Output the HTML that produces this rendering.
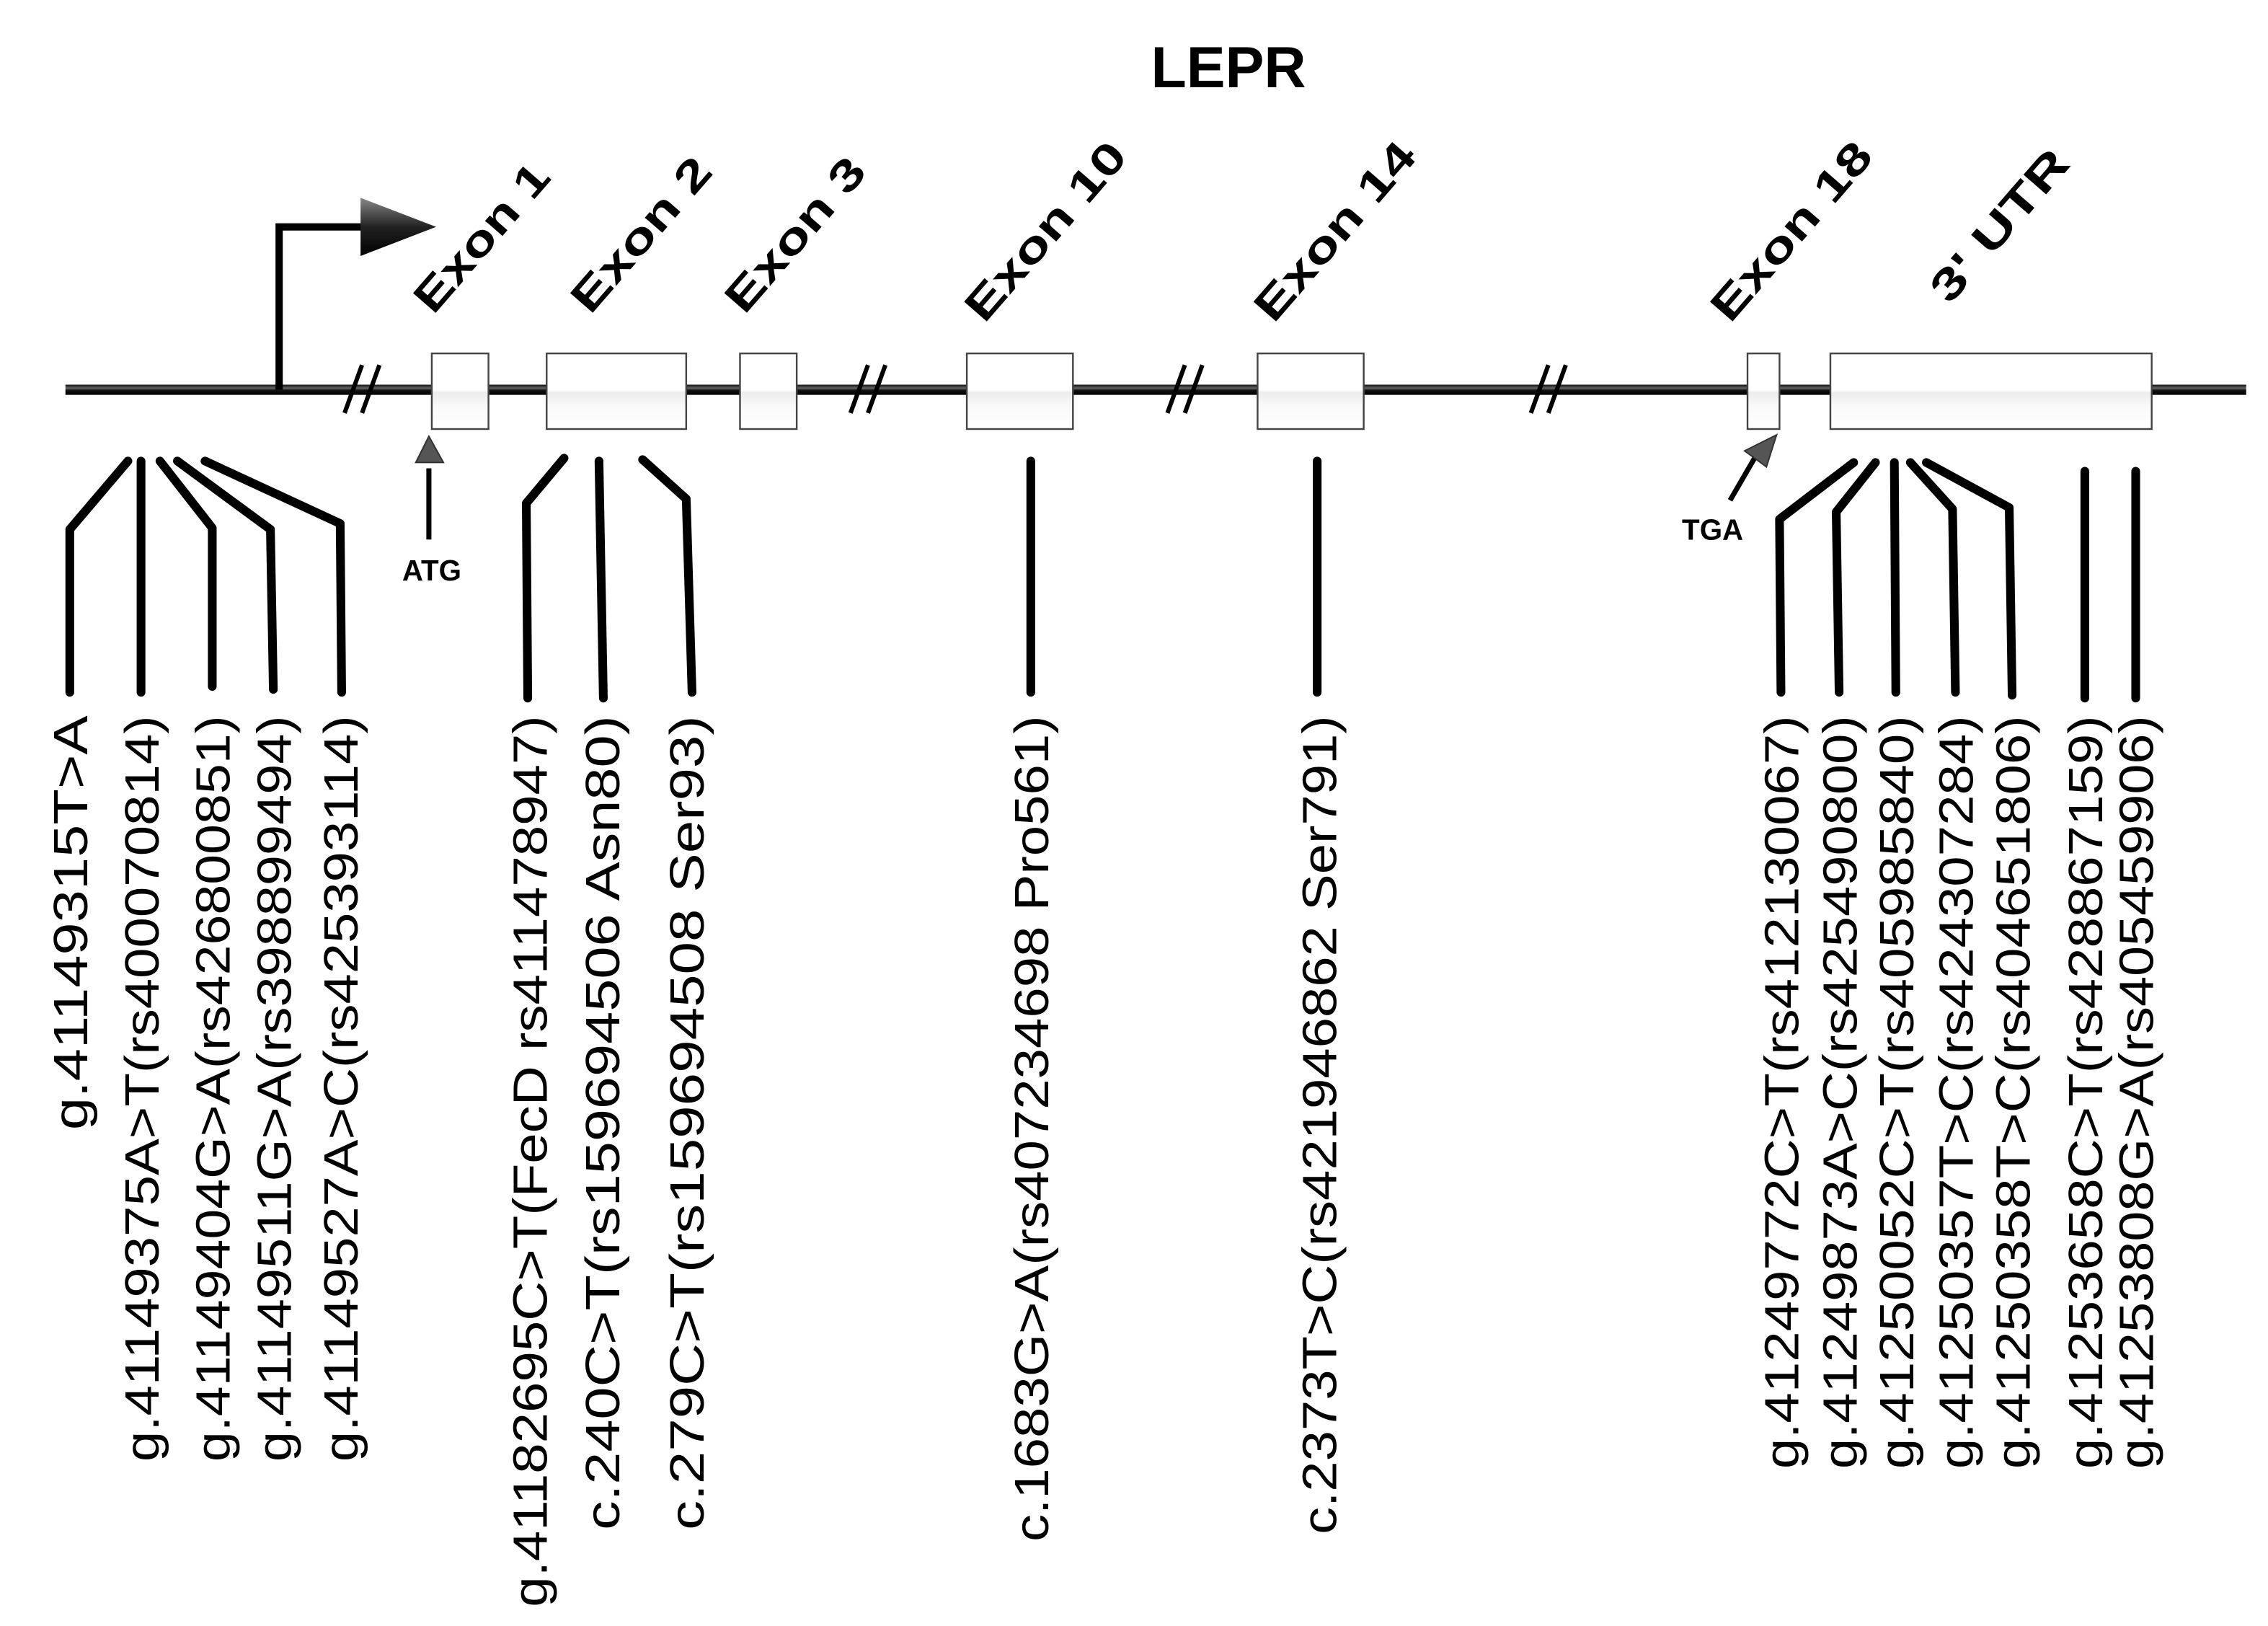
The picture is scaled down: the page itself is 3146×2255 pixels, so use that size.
<!DOCTYPE html>
<html><head><meta charset="utf-8"><style>
html,body{margin:0;padding:0;background:#fff;}
svg{display:block;}
text{font-family:"Liberation Sans",Arial,sans-serif;fill:#000;}
</style></head><body>
<svg width="3146" height="2255" viewBox="0 0 1560 1118" preserveAspectRatio="none" xmlns="http://www.w3.org/2000/svg">
<defs>
<linearGradient id="ln" x1="0" y1="0" x2="0" y2="1">
<stop offset="0" stop-color="#111"/><stop offset="0.35" stop-color="#666"/><stop offset="0.55" stop-color="#111"/><stop offset="1" stop-color="#000"/>
</linearGradient>
<linearGradient id="bx" x1="0" y1="0" x2="0" y2="1">
<stop offset="0" stop-color="#fff"/><stop offset="0.48" stop-color="#fff"/><stop offset="0.52" stop-color="#ececec"/><stop offset="0.7" stop-color="#fafafa"/><stop offset="1" stop-color="#fff"/>
</linearGradient>
<linearGradient id="ar" x1="0" y1="0" x2="0" y2="1">
<stop offset="0" stop-color="#888"/><stop offset="0.5" stop-color="#222"/><stop offset="1" stop-color="#000"/>
</linearGradient>
</defs>

<text x="845" y="60" text-anchor="middle" font-size="40" font-weight="bold">LEPR</text>

<!-- main line -->
<rect x="45" y="264.5" width="1500" height="7" fill="url(#ln)"/>

<!-- promoter arrow -->
<polyline points="192,268 192,156 250,156" fill="none" stroke="#000" stroke-width="5"/>
<polygon points="248,136 300,156 248,176" fill="url(#ar)"/>

<!-- breaks -->
<g stroke="#000" stroke-width="3" fill="none">
<line x1="237" y1="284" x2="249" y2="251"/><line x1="249" y1="284" x2="261" y2="251"/>
<line x1="585" y1="284" x2="597" y2="251"/><line x1="597" y1="284" x2="609" y2="251"/>
<line x1="803" y1="284" x2="815" y2="251"/><line x1="815" y1="284" x2="827" y2="251"/>
<line x1="1053" y1="284" x2="1065" y2="251"/><line x1="1065" y1="284" x2="1077" y2="251"/>
</g>

<!-- boxes -->
<g fill="url(#bx)" stroke="#444" stroke-width="1.2">
<rect x="297" y="243" width="39" height="52"/>
<rect x="376" y="243" width="96" height="52"/>
<rect x="509" y="243" width="39" height="52"/>
<rect x="665" y="243" width="73" height="52"/>
<rect x="865" y="243" width="73" height="52"/>
<rect x="1202" y="243" width="22" height="52"/>
<rect x="1259" y="243" width="221" height="52"/>
</g>

<!-- exon labels -->
<g font-size="30" font-weight="bold" lengthAdjust="spacingAndGlyphs">
<text transform="translate(298,217) rotate(-49)" textLength="125" lengthAdjust="spacingAndGlyphs">Exon 1</text>
<text transform="translate(406,217) rotate(-49)" textLength="130" lengthAdjust="spacingAndGlyphs">Exon 2</text>
<text transform="translate(512,217) rotate(-49)" textLength="130" lengthAdjust="spacingAndGlyphs">Exon 3</text>
<text transform="translate(677,223) rotate(-49)" textLength="152" lengthAdjust="spacingAndGlyphs">Exon 10</text>
<text transform="translate(876,223) rotate(-49)" textLength="152" lengthAdjust="spacingAndGlyphs">Exon 14</text>
<text transform="translate(1190,223) rotate(-49)" textLength="152" lengthAdjust="spacingAndGlyphs">Exon 18</text>
<text transform="translate(1341,210) rotate(-49)" textLength="128" lengthAdjust="spacingAndGlyphs">3' UTR</text>
</g>

<!-- ATG / TGA -->
<polygon points="295,300 305,318 286,318" fill="#555" stroke="#333" stroke-width="1"/>
<line x1="295" y1="322" x2="295" y2="371" stroke="#000" stroke-width="3.5"/>
<text x="297" y="399" text-anchor="middle" font-size="20" font-weight="bold">ATG</text>
<line x1="1190" y1="344" x2="1208" y2="313" stroke="#000" stroke-width="3.5"/>
<polygon points="1222,299 1215,321 1200,310" fill="#555" stroke="#333" stroke-width="1"/>
<text x="1178" y="371" text-anchor="middle" font-size="20" font-weight="bold">TGA</text>

<!-- connector lines -->
<g fill="none" stroke="#000" stroke-width="6" stroke-linecap="round" stroke-linejoin="round">
<polyline points="88,317 48,364 48,476"/>
<polyline points="97,317 97,476"/>
<polyline points="110,317 146,363 146,472"/>
<polyline points="122,317 186,364 188,474"/>
<polyline points="141,317 234,360 235,476"/>
<polyline points="388,315 362,346 363,480"/>
<polyline points="412,317 415,480"/>
<polyline points="442,316 472,343 476,476"/>
<polyline points="709,317 709,476"/>
<polyline points="906,317 906,476"/>
<polyline points="1275,318 1224,357 1225,476"/>
<polyline points="1290,318 1263,352 1265,476"/>
<polyline points="1303,318 1304,476"/>
<polyline points="1314,318 1343,350 1345,476"/>
<polyline points="1325,318 1382,349 1384,478"/>
<polyline points="1434,324 1434,480"/>
<polyline points="1469,324 1469,480"/>
</g>

<!-- SNP labels (rotated -90, end anchored at top y=492) -->
<g font-size="33" text-anchor="end">
<text transform="translate(60,492) rotate(-90)" textLength="285" lengthAdjust="spacingAndGlyphs">g.41149315T&gt;A</text>
<text transform="translate(109,492) rotate(-90)" textLength="513" lengthAdjust="spacingAndGlyphs">g.41149375A&gt;T(rs400070814)</text>
<text transform="translate(158,492) rotate(-90)" textLength="513" lengthAdjust="spacingAndGlyphs">g.41149404G&gt;A(rs426800851)</text>
<text transform="translate(200,492) rotate(-90)" textLength="513" lengthAdjust="spacingAndGlyphs">g.41149511G&gt;A(rs398899494)</text>
<text transform="translate(246,492) rotate(-90)" textLength="513" lengthAdjust="spacingAndGlyphs">g.41149527A&gt;C(rs425393114)</text>

<text transform="translate(376,492) rotate(-90)" textLength="613" lengthAdjust="spacingAndGlyphs">g.41182695C&gt;T(FecD rs411478947)</text>
<text transform="translate(426,492) rotate(-90)" textLength="560" lengthAdjust="spacingAndGlyphs">c.240C&gt;T(rs159694506 Asn80)</text>
<text transform="translate(484,492) rotate(-90)" textLength="560" lengthAdjust="spacingAndGlyphs">c.279C&gt;T(rs159694508 Ser93)</text>

<text transform="translate(721,492) rotate(-90)" textLength="568" lengthAdjust="spacingAndGlyphs">c.1683G&gt;A(rs407234698 Pro561)</text>
<text transform="translate(919,492) rotate(-90)" textLength="563" lengthAdjust="spacingAndGlyphs">c.2373T&gt;C(rs421946862 Ser791)</text>

<text transform="translate(1237,492) rotate(-90)" textLength="518" lengthAdjust="spacingAndGlyphs">g.41249772C&gt;T(rs412130067)</text>
<text transform="translate(1277,492) rotate(-90)" textLength="518" lengthAdjust="spacingAndGlyphs">g.41249873A&gt;C(rs425490800)</text>
<text transform="translate(1316,492) rotate(-90)" textLength="518" lengthAdjust="spacingAndGlyphs">g.41250052C&gt;T(rs405985840)</text>
<text transform="translate(1357,492) rotate(-90)" textLength="518" lengthAdjust="spacingAndGlyphs">g.41250357T&gt;C(rs424307284)</text>
<text transform="translate(1396,492) rotate(-90)" textLength="518" lengthAdjust="spacingAndGlyphs">g.41250358T&gt;C(rs404651806)</text>
<text transform="translate(1446,492) rotate(-90)" textLength="518" lengthAdjust="spacingAndGlyphs">g.41253658C&gt;T(rs428867159)</text>
<text transform="translate(1481,492) rotate(-90)" textLength="518" lengthAdjust="spacingAndGlyphs">g.41253808G&gt;A(rs405459906)</text>
</g>
</svg>
</body></html>
